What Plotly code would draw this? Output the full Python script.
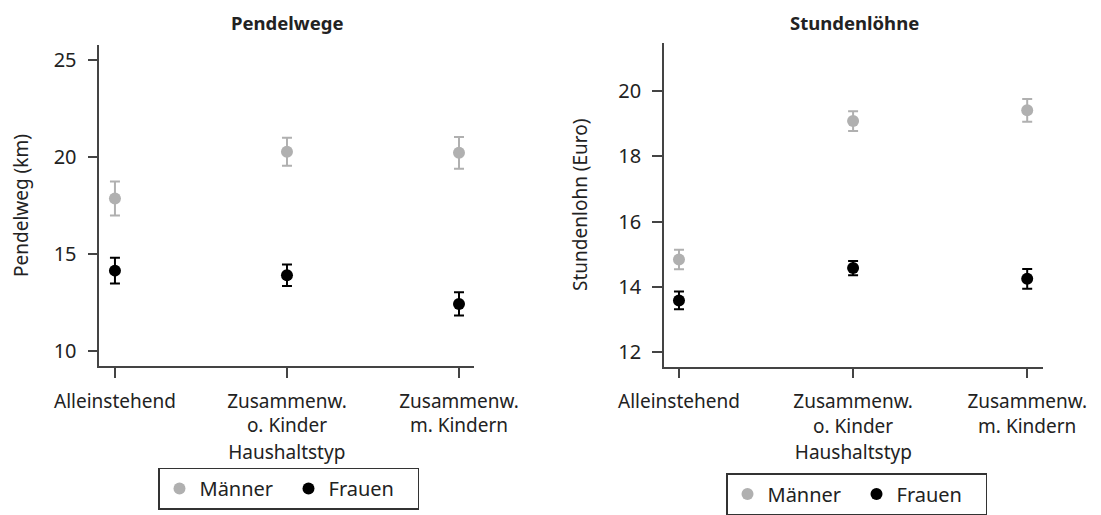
import plotly.graph_objects as go

categories = ["Alleinstehend", "Zusammenw.<br>o. Kinder", "Zusammenw.<br>m. Kindern"]
series_names = ["Männer", "Frauen"]

pendel_maenner = [17.85, 20.26, 20.21]
pendel_maenner_err = [0.88, 0.72, 0.82]
pendel_frauen = [14.13, 13.89, 12.41]
pendel_frauen_err = [0.66, 0.55, 0.60]

lohn_maenner = [14.84, 19.08, 19.41]
lohn_maenner_err = [0.30, 0.30, 0.35]
lohn_frauen = [13.59, 14.58, 14.25]
lohn_frauen_err = [0.27, 0.22, 0.30]

pendel_ticks = [10, 15, 20, 25]
lohn_ticks = [12, 14, 16, 18, 20]

GRAY = "#b0b0b0"
BLACK = "#000000"
FONT = "Noto Sans"
TXT = "#222222"
AX = "#444444"

W, H = 1101, 515
OFF = 8  # page body margin


def px(x):
    return (x - OFF) / W


def py(y):
    return 1 - (y - OFF) / H


fig = go.Figure()


def add(vals, errs, color, name, xa, ya, legend):
    fig.add_trace(go.Scatter(
        x=categories, y=vals, mode="markers", name=name,
        marker=dict(color=color, size=12),
        error_y=dict(type="data", array=errs, color=color, thickness=2, width=5),
        xaxis=xa, yaxis=ya, legend=legend, showlegend=True,
    ))


add(pendel_maenner, pendel_maenner_err, GRAY, series_names[0], "x", "y", "legend")
add(pendel_frauen, pendel_frauen_err, BLACK, series_names[1], "x", "y", "legend")
add(lohn_maenner, lohn_maenner_err, GRAY, series_names[0], "x2", "y2", "legend2")
add(lohn_frauen, lohn_frauen_err, BLACK, series_names[1], "x2", "y2", "legend2")

axis_common = dict(
    showline=True, linecolor=AX, linewidth=1.5, ticks="outside", ticklen=10,
    tickcolor=AX, tickwidth=1.5, showgrid=False, zeroline=False, automargin=False,
)
xfont = dict(family=FONT, size=19, color=TXT)
yfont = dict(family=FONT, size=20, color=TXT)
tfont = dict(family=FONT, size=19, color=TXT)
lfont = dict(family=FONT, size=20, color=TXT)

fig.update_layout(
    width=W, height=H,
    margin=dict(l=0, r=0, t=0, b=0, autoexpand=False),
    paper_bgcolor="white", plot_bgcolor="white",
    font=dict(family=FONT, color=TXT),
    xaxis=dict(**axis_common, domain=[px(99.3), px(474.3)], anchor="y",
               type="category", range=[-0.091, 2.089], tickfont=xfont, ticklabelstandoff=7,
               title=dict(text="Haushaltstyp", font=tfont, standoff=8)),
    yaxis=dict(**axis_common, domain=[py(366), py(45)], anchor="x",
               range=[9.21, 25.77], tickvals=pendel_ticks, tickfont=yfont, ticklabelstandoff=7,
               title=dict(text="Pendelweg (km)", font=tfont, standoff=23)),
    xaxis2=dict(**axis_common, domain=[px(664), px(1042.7)], anchor="y2",
                type="category", range=[-0.086, 2.089], tickfont=xfont, ticklabelstandoff=7,
                title=dict(text="Haushaltstyp", font=tfont, standoff=8)),
    yaxis2=dict(**axis_common, domain=[py(366.7), py(42.7)], anchor="x2",
                range=[11.56, 21.48], tickvals=lohn_ticks, tickfont=yfont, ticklabelstandoff=7,
                title=dict(text="Stundenlohn (Euro)", font=tfont, standoff=26)),
    legend=dict(orientation="h", x=px(158), y=py(467.5), xanchor="left", yanchor="top",
                bordercolor="#333333", borderwidth=1.5, bgcolor="white",
                font=lfont, itemsizing="constant",
                entrywidth=84, entrywidthmode="pixels"),
    legend2=dict(orientation="h", x=px(726), y=py(473), xanchor="left", yanchor="top",
                 bordercolor="#333333", borderwidth=1.5, bgcolor="white",
                 font=lfont, itemsizing="constant",
                 entrywidth=84, entrywidthmode="pixels"),
    annotations=[
        dict(text="<b>Pendelwege</b>", x=px(287), y=1, xref="paper", yref="paper",
             showarrow=False, font=dict(family=FONT, size=18.5, color=TXT), xanchor="center", yanchor="top"),
        dict(text="<b>Stundenlöhne</b>", x=px(854), y=1, xref="paper", yref="paper",
             showarrow=False, font=dict(family=FONT, size=18.5, color=TXT), xanchor="center", yanchor="top"),
    ],
)

fig.write_html("out.html")
